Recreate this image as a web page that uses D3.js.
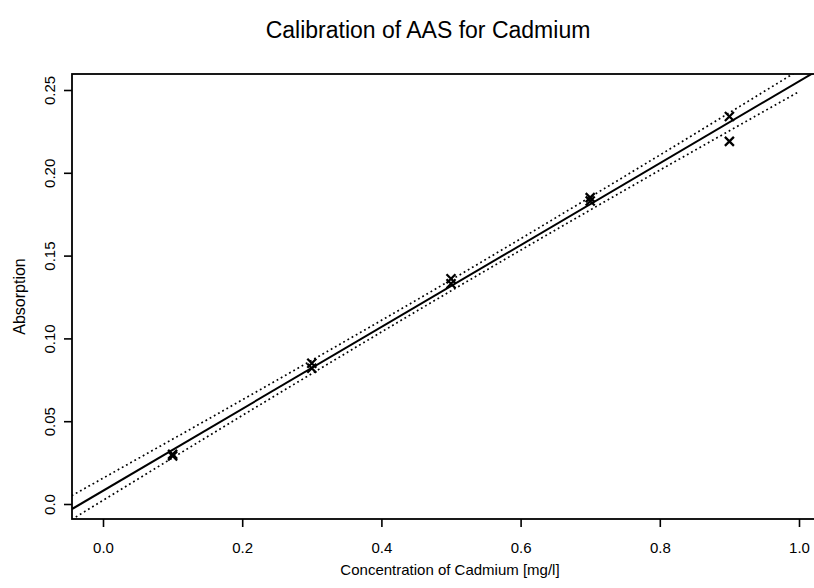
<!DOCTYPE html>
<html>
<head>
<meta charset="utf-8">
<script src="https://cdn.jsdelivr.net/npm/d3@7"></script>
<style>
  html, body { margin: 0; padding: 0; background: #fff; }
  svg { display: block; font-family: "Liberation Sans", Arial, sans-serif; }
</style>
</head>
<body>
<svg id="chart" width="814" height="588"></svg>
<script>
// ---- data ----
const concentration = [0.1, 0.1, 0.3, 0.3, 0.5, 0.5, 0.7, 0.7, 0.9, 0.9];
const absorption    = [0.029, 0.030, 0.082, 0.085, 0.133, 0.136, 0.183, 0.185, 0.219, 0.234];

// confidence band (dotted lines)
const bandX     = [-0.045, 0.25, 0.5, 0.75, 1.0];
const bandUpper = [0.0050, 0.0748, 0.1353, 0.1980, 0.2620];
const bandLower = [-0.0094, 0.0661, 0.1287, 0.1896, 0.2490];

const xTicks = [0, 0.2, 0.4, 0.6, 0.8, 1.0];
const xTickLabels = ["0.0", "0.2", "0.4", "0.6", "0.8", "1.0"];
const yTicks = [0, 0.05, 0.10, 0.15, 0.20, 0.25];
const yTickLabels = ["0.0", "0.05", "0.10", "0.15", "0.20", "0.25"];

const title = "Calibration of AAS for Cadmium";
const xTitle = "Concentration of Cadmium [mg/l]";
const yTitle = "Absorption";

// ---- layout ----
const plot = { left: 72, top: 74, right: 834, bottom: 519 };
const svg = d3.select("#chart");

const x = d3.scaleLinear().domain([0, 1]).range([103, 799]);
const y = d3.scaleLinear().domain([0, 0.25]).range([504, 90]);

// least-squares regression line from the points
const mx = d3.mean(concentration), my = d3.mean(absorption);
let sxy = 0, sxx = 0;
concentration.forEach((c, i) => { sxy += (c - mx) * (absorption[i] - my); sxx += (c - mx) * (c - mx); });
const slope = sxy / sxx, intercept = my - slope * mx;

svg.append("defs").append("clipPath").attr("id", "clip")
  .append("rect")
  .attr("x", plot.left).attr("y", plot.top)
  .attr("width", plot.right - plot.left).attr("height", plot.bottom - plot.top);

const g = svg.append("g").attr("clip-path", "url(#clip)");

const line = d3.line().x(d => x(d[0])).y(d => y(d[1]));

const xa = x.invert(plot.left), xb = x.invert(plot.right);
g.append("path")
  .datum([[xa, intercept + slope * xa], [xb, intercept + slope * xb]])
  .attr("d", line)
  .attr("fill", "none").attr("stroke", "#000").attr("stroke-width", 2);

const curveLine = d3.line().x(d => x(d[0])).y(d => y(d[1])).curve(d3.curveMonotoneX);
[bandUpper, bandLower].forEach(arr => {
  g.append("path")
    .datum(bandX.map((bx, i) => [bx, arr[i]]))
    .attr("d", curveLine)
    .attr("fill", "none").attr("stroke", "#000")
    .attr("stroke-width", 1.7).attr("stroke-dasharray", "1.8,3");
});

// crosses
const s = 4.5;
g.selectAll("path.pt")
  .data(concentration.map((c, i) => [c, absorption[i]]))
  .join("path")
  .attr("class", "pt")
  .attr("transform", d => `translate(${x(d[0])},${y(d[1])})`)
  .attr("d", `M${-s},${-s}L${s},${s}M${-s},${s}L${s},${-s}`)
  .attr("stroke", "#000").attr("stroke-width", 2.3).attr("fill", "none");

// frame
svg.append("rect")
  .attr("x", plot.left).attr("y", plot.top)
  .attr("width", plot.right - plot.left).attr("height", plot.bottom - plot.top)
  .attr("fill", "none").attr("stroke", "#000").attr("stroke-width", 1.8);

// x axis
const xAxis = svg.append("g")
  .attr("transform", `translate(0,${plot.bottom})`)
  .call(d3.axisBottom(x).tickValues(xTicks)
    .tickFormat((d, i) => xTickLabels[i]).tickSize(8).tickPadding(15));
xAxis.select(".domain").remove();
xAxis.selectAll("line").attr("stroke", "#000").attr("stroke-width", 1.6);
xAxis.selectAll("text")
  .attr("font-size", 15).attr("fill", "#000")
  .attr("font-family", "Liberation Sans, Arial, sans-serif");

// y axis
const yAxis = svg.append("g")
  .attr("transform", `translate(${plot.left},0)`)
  .call(d3.axisLeft(y).tickValues(yTicks)
    .tickFormat((d, i) => yTickLabels[i]).tickSize(8));
yAxis.select(".domain").remove();
yAxis.selectAll("line").attr("stroke", "#000").attr("stroke-width", 1.6);
yAxis.selectAll("text")
  .attr("transform", "rotate(-90)")
  .attr("x", 0).attr("y", -17).attr("dy", 0)
  .attr("text-anchor", "middle")
  .attr("font-size", 15).attr("fill", "#000")
  .attr("font-family", "Liberation Sans, Arial, sans-serif");

// titles
svg.append("text")
  .attr("x", 428).attr("y", 38)
  .attr("text-anchor", "middle")
  .attr("font-size", 23).attr("fill", "#000")
  .text(title);

svg.append("text")
  .attr("x", 450).attr("y", 575)
  .attr("text-anchor", "middle")
  .attr("font-size", 15).attr("fill", "#000")
  .text(xTitle);

svg.append("text")
  .attr("transform", `translate(25,${(plot.top + plot.bottom) / 2}) rotate(-90)`)
  .attr("text-anchor", "middle")
  .attr("font-size", 16).attr("fill", "#000")
  .text(yTitle);
</script>
</body>
</html>
